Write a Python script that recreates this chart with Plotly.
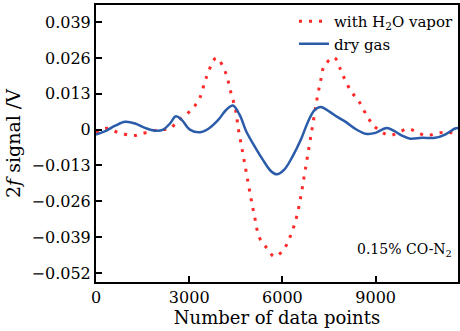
import plotly.graph_objects as go

# with H2O vapor (red dotted)
wet_x = [0, 300, 700, 1204, 1460, 2050, 2370, 2645, 3073, 3340, 3554, 3874, 4194, 4300, 4406, 4513,
         4567, 4673, 4780, 4887, 4993, 5100, 5260, 5527, 5740, 6007, 6220, 6434, 6594, 6700, 6807,
         6914, 7020, 7127, 7234, 7340, 7660, 7874, 8034, 8247, 8460, 8727, 8940, 9207, 9474, 9740,
         10060, 10327, 10647, 10967, 11287, 11650]
wet_y = [-0.0010, 0.0005, -0.0010, -0.0022, -0.0015, 0.0000, 0.0003, 0.0033, 0.0072, 0.0115, 0.0190,
         0.0260, 0.0200, 0.0151, 0.0109, 0.0060, 0.0012, -0.0054, -0.0120, -0.0187, -0.0253, -0.0314,
         -0.0392, -0.0434, -0.0461, -0.0440, -0.0396, -0.0326, -0.0241, -0.0169, -0.0097, -0.0024,
         0.0048, 0.0120, 0.0180, 0.0229, 0.0262, 0.0217, 0.0175, 0.0133, 0.0103, 0.0048, 0.0014,
         -0.0010, -0.0021, -0.0010, 0.0003, -0.0010, -0.0022, -0.0013, -0.0010, -0.0015]

# dry gas (blue solid)
dry_x = [0, 298, 618, 938, 1258, 1578, 1899, 2165, 2379, 2571, 2753, 3020, 3340, 3607, 3927, 4194,
         4406, 4620, 4833, 5100, 5367, 5634, 5815, 6060, 6327, 6594, 6807, 7020, 7234, 7500, 7767,
         8034, 8354, 8674, 8994, 9207, 9367, 9580, 9847, 10114, 10487, 10914, 11234, 11554, 11650]
dry_y = [-0.0018, -0.0006, 0.0014, 0.0028, 0.0022, 0.0006, -0.0004, 0.0000, 0.0022, 0.0048, 0.0036,
         0.0000, -0.0010, 0.0002, 0.0034, 0.0072, 0.0087, 0.0054, -0.0006, -0.0060, -0.0109, -0.0151,
         -0.0162, -0.0145, -0.0097, -0.0036, 0.0024, 0.0069, 0.0082, 0.0066, 0.0046, 0.0028, 0.0002,
         -0.0015, -0.0012, 0.0000, 0.0006, -0.0004, -0.0022, -0.0033, -0.0030, -0.0030, -0.0018,
         0.0004, 0.0006]

x_ticks = [0, 3000, 6000, 9000]
y_ticks = [0.039, 0.026, 0.013, 0, -0.013, -0.026, -0.039, -0.052]
y_labels = ["0.039", "0.026", "0.013", "0", "\u22120.013", "\u22120.026", "\u22120.039", "\u22120.052"]

FONT = "DejaVu Serif"

fig = go.Figure()
fig.add_trace(go.Scatter(x=wet_x, y=wet_y, mode="lines", name="with H<sub>2</sub>O vapor",
                         line=dict(color="#ff2b2b", width=3, dash="3px,7px", shape="spline")))
fig.add_trace(go.Scatter(x=dry_x, y=dry_y, mode="lines", name="dry gas",
                         line=dict(color="#2a5caa", width=2.5, shape="spline")))

fig.update_layout(
    width=460, height=331,
    margin=dict(l=96, r=0, t=5, b=49),
    plot_bgcolor="white", paper_bgcolor="white",
    font=dict(family=FONT, size=16, color="black"),
    showlegend=True,
    legend=dict(x=1, y=1, xanchor="right", yanchor="top", bgcolor="rgba(0,0,0,0)",
                font=dict(size=15, family=FONT), tracegroupgap=0, itemwidth=30,
                borderwidth=0),
    xaxis=dict(range=[0, 11650], tickmode="array", tickvals=x_ticks,
               ticks="inside", ticklen=6, tickwidth=1.5, tickcolor="black",
               showline=True, linecolor="black", linewidth=2, mirror=True,
               showgrid=False, zeroline=False,
               title=dict(text="Number of data points", font=dict(size=18, family=FONT), standoff=1)),
    yaxis=dict(range=[-0.0553, 0.0452], tickmode="array", tickvals=y_ticks, ticktext=y_labels,
               ticks="inside", ticklen=6, tickwidth=1.5, tickcolor="black",
               showline=True, linecolor="black", linewidth=2, mirror=True,
               showgrid=False, zeroline=False,
               title=dict(text="2<i>f</i> signal /V", font=dict(size=19, family=FONT), standoff=6)),
    annotations=[dict(text="0.15% CO-N<sub>2</sub>", x=0.99, y=0.115, xref="paper", yref="paper",
                      xanchor="right", yanchor="middle", showarrow=False,
                      font=dict(size=14, family=FONT))],
)

fig.write_html("out.html")
